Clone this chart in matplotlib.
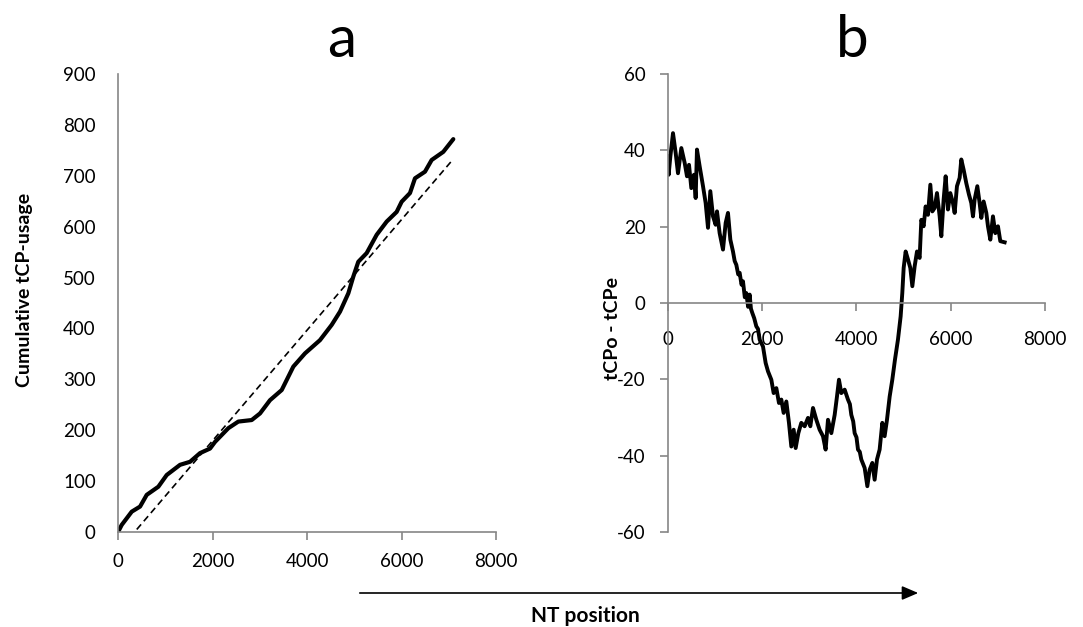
import numpy as np
import matplotlib.pyplot as plt

plt.rcParams['font.family'] = ['Lato', 'DejaVu Sans']
plt.rcParams['axes.unicode_minus'] = False  # plain hyphen like the original

# panel a - cumulative tCP usage along the sequence
cum_x = [0, 78, 290, 466, 607, 853, 1030, 1312, 1524, 1735, 1947, 2052, 2334, 2546,
         2829, 3005, 3216, 3464, 3710, 3957, 4274, 4522, 4698, 4874, 4980, 5085,
         5262, 5474, 5686, 5897, 6003, 6179, 6285, 6496, 6638, 6884, 7096]
cum_y = [0, 14, 40, 50, 73, 89, 112, 132, 138, 155, 164, 177, 204, 217,
         220, 233, 259, 279, 325, 351, 377, 407, 433, 469, 502, 531,
         548, 584, 610, 629, 649, 666, 695, 708, 731, 747, 772]
# expected usage (dashed)
trend_x = [396, 7097]
trend_y = [5, 733]

# panel b - observed minus expected
diff_x = [0, 14, 50, 106, 163, 212, 283, 354, 403, 446, 495, 552, 587, 615, 672,
          743, 799, 849, 898, 955, 1011, 1040, 1096, 1167, 1224, 1273, 1323, 1379,
          1415, 1450, 1490, 1521, 1560, 1591, 1630, 1662, 1700, 1733, 1760, 1789,
          1830, 1874, 1910, 1945, 2016, 2072, 2122, 2193,
          2242, 2299, 2355, 2405, 2454, 2511, 2567, 2617, 2667, 2709, 2766, 2829,
          2900, 2971, 3020, 3077, 3148, 3218, 3289, 3345, 3395, 3466, 3537, 3586,
          3628, 3678, 3749, 3819, 3860, 3890, 3930, 3961, 4000, 4032, 4070, 4102,
          4140, 4173, 4230, 4279, 4336,
          4385, 4435, 4491, 4548, 4597, 4647, 4704, 4760, 4817, 4880, 4937, 4972,
          5001, 5043, 5093, 5142, 5185, 5234, 5284, 5340, 5376, 5425, 5467, 5517,
          5567, 5609, 5658, 5708, 5765, 5800, 5849, 5892, 5941, 5991, 6047, 6083,
          6132, 6189, 6224, 6274, 6330, 6387, 6436, 6472, 6507, 6564, 6613, 6649,
          6698, 6755, 6790, 6840, 6896, 6946, 7002, 7052, 7144]
diff_y = [38.4, 33.6, 38.4, 44.5, 39.3, 34.0, 40.6, 36.7, 33.2, 36.2, 30.1, 33.6, 27.5, 40.2, 35.8,
          30.6, 26.2, 19.7, 29.3, 22.7, 20.5, 24.0, 18.3, 14.0, 21.0, 23.6, 16.6, 13.5,
          11.0, 10.0, 7.5, 7.9, 4.8, 5.7, 1.5, 2.6, -1.0, 2.2, -1.5, -2.6,
          -4.0, -6.1, -6.8, -9.6, -11.4, -15.7, -17.9, -20.1,
          -23.6, -22.3, -26.2, -25.3, -28.8, -25.8, -31.4, -37.6, -33.2, -38.0, -34.1, -31.4,
          -32.3, -30.1, -32.3, -27.5, -30.6, -33.2, -34.9, -38.4, -30.6, -34.1, -29.3, -24.5,
          -20.1, -23.6, -22.7, -25.3, -26.5, -29.3, -31.0, -34.1, -35.2, -38.4, -39.0, -41.0,
          -42.2, -43.2, -48.0, -43.7, -41.9,
          -46.3, -41.0, -38.4, -31.4, -34.9, -30.6, -24.5, -20.1, -14.8, -9.6, -3.5, 2.6,
          9.2, 13.5, 11.4, 9.2, 4.4, 9.6, 13.5, 11.8, 21.8, 20.1, 25.3, 23.1,
          31.0, 24.0, 24.9, 28.8, 22.7, 17.5, 27.1, 33.2, 24.5, 28.8, 26.2, 23.6,
          30.6, 32.8, 37.6, 34.9, 31.4, 28.4, 26.2, 22.7, 27.1, 30.6, 26.2, 22.3,
          26.6, 23.6, 20.1, 16.6, 22.7, 18.3, 20.1, 16.2, 15.9]

x_ticks = [0, 2000, 4000, 6000, 8000]
a_yticks = list(range(0, 901, 100))
b_yticks = [-60, -40, -20, 0, 20, 40, 60]

axis_col = '#868686'
tick_fs = 13.5

fig = plt.figure(figsize=(10.83, 6.27), dpi=100)
ax1 = fig.add_axes([0.1090, 0.1515, 0.3490, 0.7305])
ax2 = fig.add_axes([0.6168, 0.1515, 0.3481, 0.7305])

# ---- panel a
ax1.plot(cum_x, cum_y, color='black', lw=3.0, solid_capstyle='round', solid_joinstyle='round')
ax1.plot(trend_x, trend_y, color='black', lw=1.2, ls=(0, (4, 2.5)))
ax1.set_xlim(0, 8000)
ax1.set_ylim(0, 900)
ax1.set_xticks(x_ticks)
ax1.set_yticks(a_yticks)
for s in ['top', 'right']:
    ax1.spines[s].set_visible(False)
for s in ['left', 'bottom']:
    ax1.spines[s].set_color(axis_col)
    ax1.spines[s].set_linewidth(1.2)
ax1.tick_params(axis='x', direction='out', length=6, width=1.2, color=axis_col, pad=9, labelsize=tick_fs)
ax1.tick_params(axis='y', length=0, pad=16, labelsize=tick_fs)

# ---- panel b
ax2.plot(diff_x, diff_y, color='black', lw=2.8, solid_joinstyle='round')
ax2.set_xlim(0, 8000)
ax2.set_ylim(-60, 60)
ax2.set_xticks(x_ticks)
ax2.set_yticks(b_yticks)
for s in ['top', 'right']:
    ax2.spines[s].set_visible(False)
ax2.spines['bottom'].set_position(('data', 0))
for s in ['left', 'bottom']:
    ax2.spines[s].set_color(axis_col)
    ax2.spines[s].set_linewidth(1.2)
ax2.tick_params(axis='x', direction='out', length=6, width=1.2, color=axis_col, pad=14, labelsize=tick_fs)
ax2.tick_params(axis='y', direction='out', length=6, width=1.2, color=axis_col, pad=10, labelsize=tick_fs)

# labels and titles
fig.text(342 / 1083, 1 - 57 / 627, 'a', fontsize=42, ha='center', va='baseline')
fig.text(852 / 1083, 1 - 57 / 627, 'b', fontsize=42, ha='center', va='baseline')
fig.text(25 / 1083, 1 - 290 / 627, 'Cumulative tCP-usage', rotation=90, fontsize=14,
         fontweight='bold', ha='center', va='center')
fig.text(613 / 1083, 1 - 329 / 627, 'tCPo - tCPe', rotation=90, fontsize=14,
         fontweight='bold', ha='center', va='center')

# NT position arrow along the bottom
fig.patches.append(plt.matplotlib.patches.FancyArrowPatch(
    (357 / 1083, 1 - 593 / 627), (921 / 1083, 1 - 593 / 627), transform=fig.transFigure,
    arrowstyle='-|>,head_length=0.7,head_width=0.3', color='black', lw=1.2, mutation_scale=14))
fig.text(585 / 1083, 1 - 616 / 627, 'NT position', fontsize=15, fontweight='bold',
         ha='center', va='center')

plt.savefig('out.png', dpi=100)
